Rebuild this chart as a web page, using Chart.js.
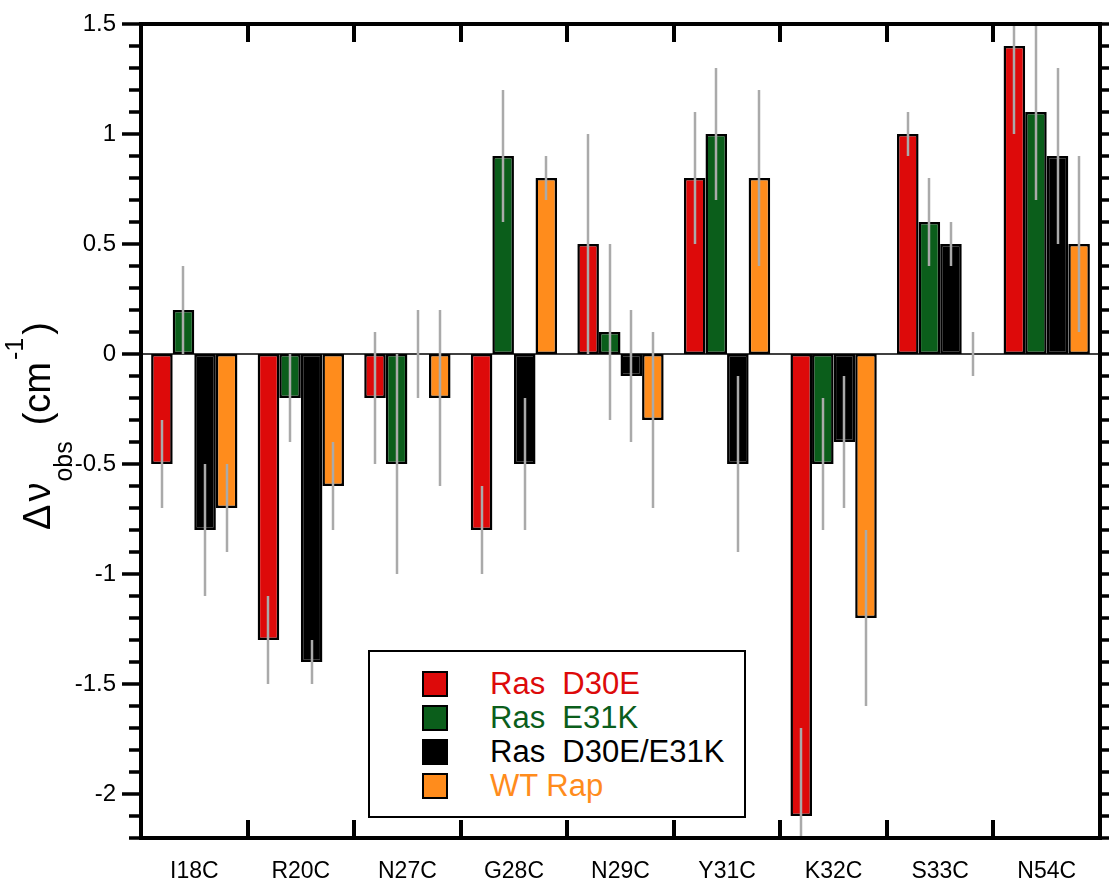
<!DOCTYPE html>
<html>
<head>
<meta charset="utf-8">
<script src="https://cdn.jsdelivr.net/npm/chart.js@4/dist/chart.umd.min.js"></script>
<style>
  html, body { margin: 0; padding: 0; background: #fff; }
  #wrap { position: relative; width: 1109px; height: 891px; }
  #c { display: block; }
  #legend {
    position: absolute; left: 368px; top: 650px; width: 374px; height: 164px;
    border: 2px solid #000; background: #fff;
    font-family: "Liberation Sans", Arial, sans-serif; font-size: 31px;
  }
  .row { position: absolute; left: 52px; height: 34px; display: flex; align-items: center; white-space: pre; }
  .sw { width: 22px; height: 22px; border: 2px solid #000; margin-right: 42px; }
</style>
</head>
<body>
<div id="wrap">
  <canvas id="c" width="1109" height="891"></canvas>
  <div id="legend"></div>
</div>
<script>
// ---- data ----
const categories = ['I18C','R20C','N27C','G28C','N29C','Y31C','K32C','S33C','N54C'];
const seriesNames = ['Ras  D30E','Ras  E31K','Ras  D30E/E31K','WT Rap'];
const rasD30E      = [-0.5, -1.3, -0.2, -0.8,  0.5,  0.8, -2.1, 1.0, 1.4];
const rasD30EErr   = [ 0.2,  0.2,  0.3,  0.2,  0.5,  0.3,  0.4, 0.1, 0.4];
const rasE31K      = [ 0.2, -0.2, -0.5,  0.9,  0.1,  1.0, -0.5, 0.6, 1.1];
const rasE31KErr   = [ 0.2,  0.2,  0.5,  0.3,  0.4,  0.3,  0.3, 0.2, 0.4];
const rasDouble    = [-0.8, -1.4,  0.0, -0.5, -0.1, -0.5, -0.4, 0.5, 0.9];
const rasDoubleErr = [ 0.3,  0.1,  0.2,  0.3,  0.3,  0.4,  0.3, 0.1, 0.4];
const wtRap        = [-0.7, -0.6, -0.2,  0.8, -0.3,  0.8, -1.2, 0.0, 0.5];
const wtRapErr     = [ 0.2,  0.2,  0.4,  0.1,  0.4,  0.4,  0.4, 0.1, 0.4];
const yMin = -2.2, yMax = 1.5;

const colors = ['#dd0a0a', '#0b5e1b', '#000000', '#ff8c1c'];
const values = [rasD30E, rasE31K, rasDouble, wtRap];
const errors = [rasD30EErr, rasE31KErr, rasDoubleErr, wtRapErr];

const FONT = '"Liberation Sans", Arial, sans-serif';

// ---- legend (HTML) ----
const leg = document.getElementById('legend');
seriesNames.forEach((name, i) => {
  const row = document.createElement('div');
  row.className = 'row';
  row.style.top = (15 + i * 34) + 'px';
  const sw = document.createElement('div');
  sw.className = 'sw';
  sw.style.background = colors[i];
  const tx = document.createElement('span');
  tx.textContent = name;
  tx.style.color = colors[i];
  row.appendChild(sw); row.appendChild(tx);
  leg.appendChild(row);
});

// ---- plugins ----
const zeroLine = {
  id: 'zeroLine',
  beforeDatasetsDraw(chart) {
    const {ctx, chartArea: a, scales: {y}} = chart;
    const py = y.getPixelForValue(0);
    ctx.save();
    ctx.strokeStyle = '#000'; ctx.lineWidth = 1.5;
    ctx.beginPath(); ctx.moveTo(a.left, py); ctx.lineTo(a.right, py); ctx.stroke();
    ctx.restore();
  }
};

const errorBars = {
  id: 'errorBars',
  afterDatasetsDraw(chart) {
    const {ctx, chartArea: a, scales: {y}} = chart;
    ctx.save();
    ctx.beginPath(); ctx.rect(a.left, a.top, a.right - a.left, a.bottom - a.top); ctx.clip();
    ctx.strokeStyle = '#aaaaaa'; ctx.lineWidth = 2.5;
    chart.data.datasets.forEach((ds, di) => {
      const meta = chart.getDatasetMeta(di);
      meta.data.forEach((bar, i) => {
        const v = ds.data[i], e = errors[di][i];
        if (v == null || e == null) return;
        const x = Math.round(bar.x);
        ctx.beginPath();
        ctx.moveTo(x, y.getPixelForValue(v + e));
        ctx.lineTo(x, y.getPixelForValue(v - e));
        ctx.stroke();
      });
    });
    ctx.restore();
  }
};

const frame = {
  id: 'frame',
  afterDraw(chart) {
    const {ctx, chartArea: a, scales: {x, y}} = chart;
    ctx.save();
    ctx.strokeStyle = '#000';
    ctx.lineWidth = 3.5;
    const n0 = Math.round(yMin * 10), n1 = Math.round(yMax * 10);
    for (let n = n0; n <= n1; n++) {
      const py = y.getPixelForValue(n / 10);
      const major = n % 5 === 0;
      ctx.beginPath();
      ctx.moveTo(a.left - (major ? 19 : 12), py); ctx.lineTo(a.left, py);
      ctx.moveTo(a.right, py); ctx.lineTo(a.right + 10, py);
      ctx.stroke();
    }
    ctx.lineWidth = 4;
    for (let i = 1; i < categories.length; i++) {
      const px = Math.round((x.getPixelForTick(i - 1) + x.getPixelForTick(i)) / 2);
      ctx.beginPath();
      ctx.moveTo(px, a.top); ctx.lineTo(px, a.top + 18);
      ctx.moveTo(px, a.bottom); ctx.lineTo(px, a.bottom - 18);
      ctx.stroke();
    }
    ctx.lineWidth = 4;
    ctx.strokeRect(a.left, a.top, a.right - a.left, a.bottom - a.top);
    ctx.restore();

    // y-axis title: Δν_obs (cm^-1)
    ctx.save();
    ctx.fillStyle = '#000';
    ctx.translate(50, 0);
    ctx.rotate(-Math.PI / 2);
    ctx.textBaseline = 'alphabetic';
    ctx.textAlign = 'left';
    const big = '38px ' + FONT, small = '25px ' + FONT;
    ctx.font = big;
    let u = -530;
    ctx.fillText('Δ', u, 0); u += ctx.measureText('Δ').width + 3;
    ctx.fillText('ν', u, 0); u += ctx.measureText('ν').width + 1;
    ctx.font = small;
    ctx.fillText('obs', u, 22); u += ctx.measureText('obs').width + 16;
    ctx.font = big;
    ctx.fillText('(cm', u, 0); u += ctx.measureText('(cm').width + 2;
    ctx.font = small;
    ctx.fillText('-1', u, -27); u += ctx.measureText('-1').width + 3;
    ctx.font = big;
    ctx.fillText(')', u, 0);
    ctx.restore();
  }
};

// ---- chart ----
new Chart(document.getElementById('c'), {
  type: 'bar',
  data: {
    labels: categories,
    datasets: values.map((vals, i) => ({
      label: seriesNames[i],
      data: vals,
      backgroundColor: colors[i],
      borderColor: '#000',
      borderWidth: 2.5,
      borderSkipped: false,
      categoryPercentage: 0.81,
      barPercentage: 1.0
    }))
  },
  options: {
    responsive: false,
    animation: false,
    devicePixelRatio: 1,
    layout: { padding: { top: 24, right: 9, left: 0, bottom: 0 } },
    plugins: { legend: { display: false }, tooltip: { enabled: false } },
    scales: {
      x: {
        grid: { display: false, drawTicks: false },
        border: { display: false },
        ticks: { color: '#000', font: { family: FONT, size: 23 }, padding: 20, autoSkip: false, maxRotation: 0 },
        afterFit(s) { s.height = 53; s.paddingLeft = 0; s.paddingRight = 0; }
      },
      y: {
        min: yMin, max: yMax,
        grid: { display: false, drawTicks: false },
        border: { display: false },
        ticks: {
          stepSize: 0.1, autoSkip: false, color: '#000', padding: 25,
          font: { family: FONT, size: 24 },
          callback(v) { const r = Math.round(v * 10); return r % 5 === 0 ? String(r / 10) : ''; }
        },
        afterFit(s) { s.width = 141; s.paddingTop = 0; s.paddingBottom = 0; }
      }
    }
  },
  plugins: [zeroLine, errorBars, frame]
});
</script>
</body>
</html>
